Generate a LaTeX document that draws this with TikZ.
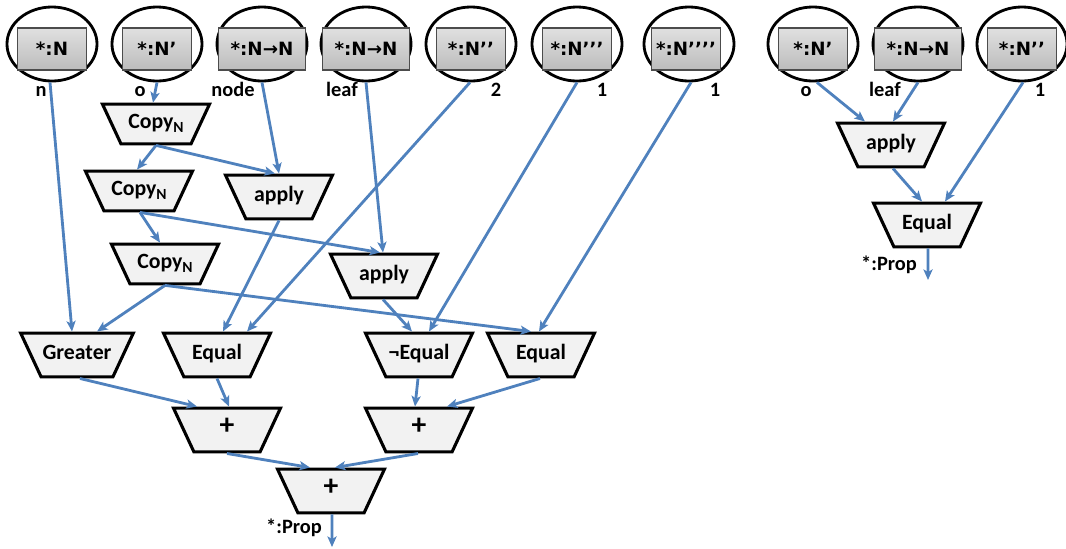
\documentclass[tikz,border=0pt]{standalone}
\usepackage{fontspec}
\setmainfont{Carlito}
\newfontfamily\boxfont{DejaVu Sans}
\usetikzlibrary{shapes.geometric,arrows.meta,calc}

\definecolor{flowblue}{RGB}{79,129,189}
\definecolor{opfill}{RGB}{242,242,242}
\definecolor{boxtop}{RGB}{224,224,224}
\definecolor{boxbot}{RGB}{188,188,188}

\tikzset{
  typering/.style={ellipse, draw, line width=2pt, fill=white,
    minimum width=2.25cm, minimum height=1.85cm},
  typebox/.style={rectangle, draw=black!70, line width=0.8pt,
    top color=boxtop, bottom color=boxbot, inner sep=1pt,
    minimum width=1.725cm, minimum height=1.05cm,
    font=\boxfont\bfseries\fontsize{13}{13}\selectfont},
  widebox/.style={typebox, minimum width=2.175cm},
  op/.style={trapezium, shape border rotate=180,
    trapezium left angle=65, trapezium right angle=65,
    trapezium stretches body, draw, line width=2.2pt, fill=opfill,
    minimum width=2.675cm, text height=10pt, text depth=3pt,
    inner xsep=1pt, inner ysep=9.1pt,
    font=\bfseries\fontsize{15.5}{15.5}\selectfont},
  copyop/.style={op, inner ysep=7.6pt},
  plusop/.style={op, font=\bfseries\fontsize{21}{21}\selectfont},
  varlabel/.style={anchor=base, inner sep=0pt,
    font=\bfseries\fontsize{14.5}{14.5}\selectfont},
  flow/.style={flowblue, line width=2pt,
    -{Stealth[length=7.5pt,width=6.5pt,inset=1.8pt]}},
}
\newcommand{\copyn}{Copy\raisebox{-0.35ex}{\fontsize{11}{11}\selectfont N}}

\begin{document}
\begin{tikzpicture}[x=0.025cm, y=-0.025cm]
\useasboundingbox (0,0) rectangle (1066,548);

% input types, left term
\node[typering] (tn) at (52,44) {};
\node[typebox] (tnbox) at (52,49) {*:N};
\node[typering] (to) at (157,44) {};
\node[typebox] (tobox) at (157,49) {*:N’};
\node[typering] (tnode) at (262,44) {};
\node[widebox] (tnodebox) at (262,49) {*:N→N};
\node[typering] (tleaf) at (366,44) {};
\node[widebox] (tleafbox) at (366,49) {*:N→N};
\node[typering] (ttwo) at (471,44) {};
\node[typebox] (ttwobox) at (471,49) {*:N’’};
\node[typering] (tone) at (577,44) {};
\node[typebox] (tonebox) at (577,49) {*:N’’’};
\node[typering] (tonex) at (689,44) {};
\node[typebox] (tonexbox) at (686,49) {*:N’’’’};

\node[varlabel] (ln) at (41,96) {n};
\node[varlabel] (lo) at (140,96) {o};
\node[varlabel] (lnode) at (233,96) {node};
\node[varlabel] (lleaf) at (342,96) {leaf};
\node[varlabel] (ltwo) at (496,96) {2};
\node[varlabel] (lone) at (602,96) {1};
\node[varlabel] (lonex) at (715,96) {1};

% input types, right term
\node[typering] (ro) at (813,44) {};
\node[typebox] (robox) at (813,49) {*:N’};
\node[typering] (rleaf) at (918,44) {};
\node[widebox] (rleafbox) at (918,49) {*:N→N};
\node[typering] (rone) at (1022,44) {};
\node[typebox] (ronebox) at (1022,49) {*:N’’};

\node[varlabel] (lro) at (806,96) {o};
\node[varlabel] (lrleaf) at (885,96) {leaf};
\node[varlabel] (lrone) at (1040,96) {1};

% operators, left term
\node[copyop] (copya) at (156,124) {\copyn};
\node[copyop] (copyb) at (139,191) {\copyn};
\node[copyop] (copyc) at (165,264) {\copyn};
\node[op] (applya) at (279,197) {apply};
\node[op] (applyb) at (384,276) {apply};
\node[op] (greater) at (77,355) {Greater};
\node[op] (equala) at (217,355) {Equal};
\node[op] (nequal) at (419,355) {¬Equal};
\node[op] (equalb) at (541,355) {Equal};
\node[plusop] (plusa) at (227,430) {+};
\node[plusop] (plusb) at (419,430) {+};
\node[plusop] (plusc) at (331,491) {+};
\coordinate (outa) at (332,547);
\node[varlabel] (propa) at (294,533) {*:Prop};

% operators, right term
\node[op] (applyc) at (891,145) {apply};
\node[op] (equalc) at (927,225) {Equal};
\coordinate (outb) at (928,280);
\node[varlabel] (propb) at (889,270) {*:Prop};

% flows, left term
\draw[flow] ($(tn.south)+(-2,0)$) -- ($(greater.north)+(-5,0)$);
\draw[flow] (to.south) -- ($(copya.north)+(-3,0)$);
\draw[flow] (tnode.south) -- (applya.north);
\draw[flow] (copya.south) -- ($(copyb.north)+(-2,0)$);
\draw[flow] (copya.south) -- ($(applya.north)+(-4,0)$);
\draw[flow] (tleaf.south) -- ($(applyb.north)+(-1,0)$);
\draw[flow] ($(ttwo.south)+(-1,0)$) -- ($(equala.north)+(30,0)$);
\draw[flow] (tone.south) -- ($(nequal.north)+(10,0)$);
\draw[flow] ($(tonex.south)+(2,0)$) -- ($(equalb.north)+(-2,0)$);
\draw[flow] ($(copyb.south)+(1,0)$) -- ($(copyc.north)+(-5,0)$);
\draw[flow] ($(copyb.south)+(1,0)$) -- ($(applyb.north)+(-4,0)$);
\draw[flow] (applya.south) -- ($(equala.north)+(6,0)$);
\draw[flow] (copyc.south) -- ($(greater.north)+(20,0)$);
\draw[flow] (copyc.south) -- ($(equalb.north)+(-10,0)$);
\draw[flow] ($(applyb.south)+(-1,0)$) -- ($(nequal.north)+(-7,0)$);
\draw[flow] ($(greater.south)+(3,0)$) -- ($(plusa.north)+(-30,0)$);
\draw[flow] (equala.south) -- ($(plusa.north)+(2,0)$);
\draw[flow] ($(nequal.south)+(-1,0)$) -- ($(plusb.north)+(-4,0)$);
\draw[flow] ($(equalb.south)+(-1,0)$) -- ($(plusb.north)+(28,0)$);
\draw[flow] (plusa.south) -- ($(plusc.north)+(-21,0)$);
\draw[flow] ($(plusb.south)+(-1,0)$) -- ($(plusc.north)+(4,0)$);
\draw[flow] ($(plusc.south)+(1,0)$) -- (outa);

% flows, right term
\draw[flow] ($(ro.south)+(4,0)$) -- ($(applyc.north)+(-26,0)$);
\draw[flow] (rleaf.south) -- ($(applyc.north)+(2,0)$);
\draw[flow] ($(rone.south)+(1,0)$) -- ($(equalc.north)+(18,0)$);
\draw[flow] ($(applyc.south)+(2,0)$) -- ($(equalc.north)+(-5,0)$);
\draw[flow] ($(equalc.south)+(1,0)$) -- (outb);
\end{tikzpicture}
\end{document}
